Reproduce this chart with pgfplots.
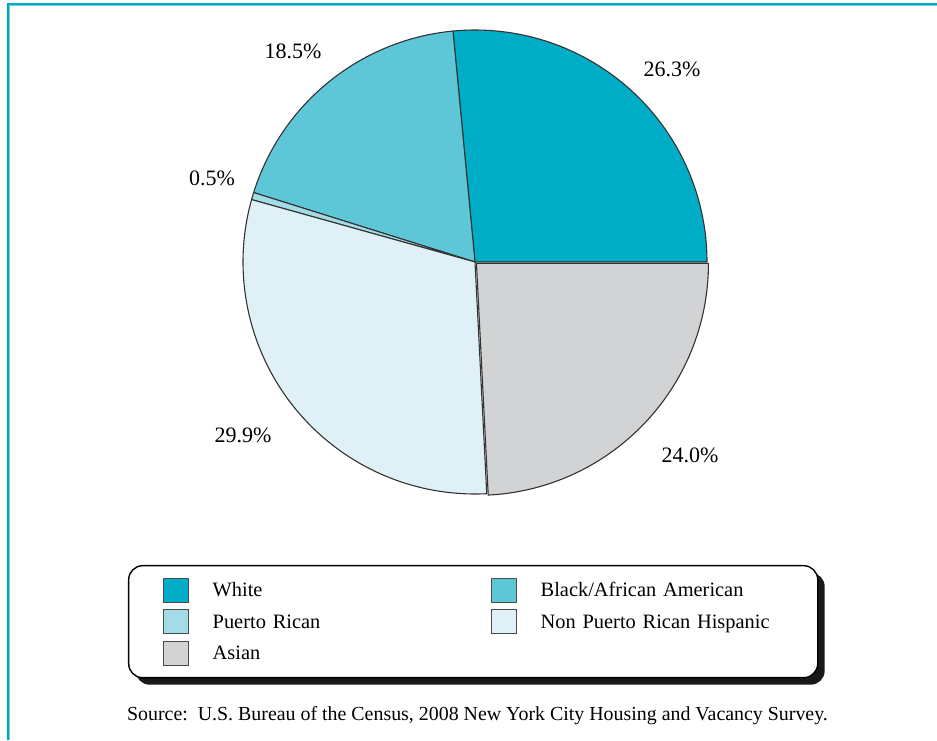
\documentclass[border=0pt]{standalone}
\usepackage{pgfplots}
\pgfplotsset{compat=1.18}
\usepackage{pgfplotstable}
\usepackage{etoolbox}
\usepackage{fontspec}
\setmainfont{Liberation Serif}
\usetikzlibrary{shadows}

\makeatletter
\tikzset{no preactions/.code={\let\tikz@preactions\pgfutil@empty}}
\makeatother

\definecolor{cWhite}{HTML}{00ADC6}
\definecolor{cBlack}{HTML}{5DC7D8}
\definecolor{cPR}{HTML}{A3DCE6}
\definecolor{cNPR}{HTML}{DFF1F6}
\definecolor{cAsian}{HTML}{D1D3D4}
\definecolor{frameDark}{HTML}{00A8C2}
\definecolor{frameLight}{HTML}{6CCCDB}

% share (percent), colour, explode offset (pt), label position (axis units = pt)
\pgfplotstableread[col sep=comma]{
name,value,color,explode,labx,laby
White,26.3,cWhite,0,98.5,96.5
Black/African American,18.5,cBlack,0,-91,105.5
Puerto Rican,0.5,cPR,0,-131.5,42
Non Puerto Rican Hispanic,29.9,cNPR,0,-116,-86.5
Asian,24.0,cAsian,1,107.5,-96.5
}\piedata

\newcommand\labelfont{\fontsize{11}{13}\selectfont}

% total of the shares
\pgfplotstablegetrowsof{\piedata}\pgfmathtruncatemacro\nlast{\pgfplotsretval-1}
\def\total{0}
\pgfplotsforeachungrouped \i in {0,...,\nlast}{%
  \pgfplotstablegetelem{\i}{value}\of\piedata
  \pgfmathsetmacro\total{\total+\pgfplotsretval}%
}

% build the slices, labels and legend entries
\def\slicecmds{}
\def\acc{0}
\pgfplotsforeachungrouped \i in {0,...,\nlast}{%
  \pgfplotstablegetelem{\i}{value}\of\piedata \let\pv\pgfplotsretval
  \pgfplotstablegetelem{\i}{color}\of\piedata \let\pc\pgfplotsretval
  \pgfplotstablegetelem{\i}{explode}\of\piedata \let\pex\pgfplotsretval
  \pgfplotstablegetelem{\i}{name}\of\piedata \let\pname\pgfplotsretval
  \pgfplotstablegetelem{\i}{labx}\of\piedata \let\plx\pgfplotsretval
  \pgfplotstablegetelem{\i}{laby}\of\piedata \let\ply\pgfplotsretval
  \pgfmathsetmacro\sa{\acc/\total*360}%
  \pgfmathsetmacro\acc{\acc+\pv}%
  \pgfmathsetmacro\ea{\acc/\total*360}%
  \pgfmathsetmacro\ma{(\sa+\ea)/2}%
  \edef\tmp{%
    \noexpand\filldraw[fill=\pc, draw=black!80, line width=0.55pt, line join=round, shift={(\ma:\pex pt)}]
      (axis cs:0,0) -- (axis cs:{116*cos(\sa)},{116*sin(\sa)})
      arc[start angle=\sa, end angle=\ea, radius=116pt] -- cycle;
    \noexpand\node[font=\noexpand\labelfont] at (axis cs:\plx,\ply) {\pv\noexpand\%};
    \noexpand\addlegendimage{fill=\pc, draw=black!70}
    \noexpand\addlegendentry{\pname}
  }%
  \expandafter\appto\expandafter\slicecmds\expandafter{\tmp}%
}

\begin{document}
\begin{tikzpicture}
\begin{axis}[
  name=ax,
  hide axis,
  x=1pt, y=1pt,
  xmin=-237.5, xmax=231,
  ymin=-239, ymax=131,
  clip=false,
  legend columns=2,
  legend cell align=left,
  legend image code/.code={\draw[no preactions, #1, sharp corners, line width=0.5pt] (0pt,-6pt) rectangle (12.5pt,6pt);},
  legend style={
    at={(0.1366,0.2365)}, anchor=north west,
    draw=black, line width=0.7pt, rounded corners=7pt, fill=white,
    drop shadow={shadow xshift=3.5pt, shadow yshift=-3.5pt, fill=black!90, opacity=1},
    inner xsep=17pt, inner ysep=6pt, row sep=3.25pt,
    font=\fontsize{10.2}{12}\selectfont,
    nodes={inner sep=0pt, text width=121.5pt, align=left, minimum height=12pt, text height=8.5pt, text depth=2pt},
    /tikz/every odd column/.style={column sep=12pt},
    /tikz/every even column/.style={column sep=17.5pt},
  },
]
\slicecmds
% frame lines
\draw[frameDark, line width=1pt] (axis cs:231,128.9) -- (axis cs:-233.5,128.9) -- (axis cs:-233.5,-239);
\draw[frameLight, line width=0.5pt] (axis cs:231,128.2) -- (axis cs:-232.8,128.2) -- (axis cs:-232.8,-239);
% source note
\node[font=\fontsize{9.95}{12}\selectfont] at (axis cs:1.25,-227) {Source:\ \ U.S. Bureau of the Census, 2008 New York City Housing and Vacancy Survey.};
\end{axis}
\pgfresetboundingbox
\path[use as bounding box] (ax.south west) rectangle (ax.north east);
\end{tikzpicture}
\end{document}
